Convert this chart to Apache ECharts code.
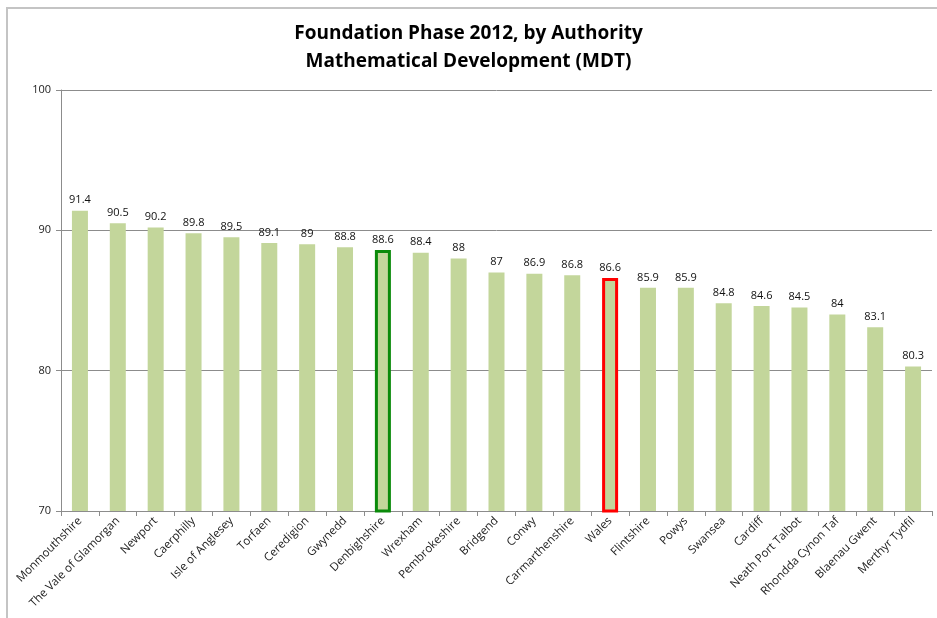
<!DOCTYPE html>
<html>
<head>
<meta charset="utf-8">
<script src="https://cdn.jsdelivr.net/npm/echarts@6/dist/echarts.min.js"></script>
<style>
html,body{margin:0;padding:0;background:#fff;overflow:hidden;}
#frame{position:absolute;left:6px;top:7px;width:960px;height:640px;border:2px solid #c4c4c4;box-sizing:border-box;}
#chart{position:absolute;left:0;top:0;width:937px;height:618px;}
</style>
</head>
<body>
<div id="frame"></div>
<div id="chart"></div>
<script>
var authorities = ['Monmouthshire','The Vale of Glamorgan','Newport','Caerphilly','Isle of Anglesey','Torfaen','Ceredigion','Gwynedd','Denbighshire','Wrexham','Pembrokeshire','Bridgend','Conwy','Carmarthenshire','Wales','Flintshire','Powys','Swansea','Cardiff','Neath Port Talbot','Rhondda Cynon Taf','Blaenau Gwent','Merthyr Tydfil'];
var mdtValues = [91.4,90.5,90.2,89.8,89.5,89.1,89,88.8,88.6,88.4,88,87,86.9,86.8,86.6,85.9,85.9,84.8,84.6,84.5,84,83.1,80.3];
var yTicks = [70, 80, 90, 100];
var outlined = {'Denbighshire':'#0a8a0a','Wales':'#ff0000'};

var chart = echarts.init(document.getElementById('chart'));
var font = 'Open Sans, Liberation Sans, sans-serif';

var barData = mdtValues.map(function(v, i){
	var c = outlined[authorities[i]];
	if (c) {
		return {value: v, itemStyle: {color: '#c3d69b', borderColor: c, borderWidth: 3}};
	}
	return v;
});

chart.setOption({
	animation: false,
	title: {
		text: 'Foundation Phase 2012, by Authority\nMathematical Development (MDT)',
		left: 'center',
		top: 15,
		textStyle: {fontFamily: font, fontSize: 19, fontWeight: 'bold', color: '#000', lineHeight: 28}
	},
	grid: {left: 61, right: 5, top: 90, bottom: 107, containLabel: false},
	xAxis: {
		type: 'category',
		data: authorities,
		axisLine: {lineStyle: {color: '#8c8c8c', width: 1}},
		axisTick: {show: true, alignWithLabel: false, length: 5, lineStyle: {color: '#8c8c8c'}},
		axisLabel: {interval: 0, rotate: 45, fontFamily: font, fontSize: 11.5, color: '#222', margin: 8}
	},
	yAxis: {
		type: 'value',
		min: yTicks[0],
		max: yTicks[yTicks.length - 1],
		interval: 10,
		axisLine: {show: true, lineStyle: {color: '#8c8c8c'}},
		axisTick: {show: true, inside: false, length: 5, lineStyle: {color: '#8c8c8c'}},
		axisLabel: {fontFamily: font, fontSize: 11, color: '#222', margin: 10},
		splitLine: {show: true, lineStyle: {color: '#8c8c8c', width: 1}}
	},
	series: [{
		type: 'bar',
		data: barData,
		barWidth: 16,
		itemStyle: {color: '#c3d69b'},
		label: {show: true, position: 'top', distance: 5, fontFamily: font, fontSize: 11, color: '#111'}
	}]
});
</script>
</body>
</html>
